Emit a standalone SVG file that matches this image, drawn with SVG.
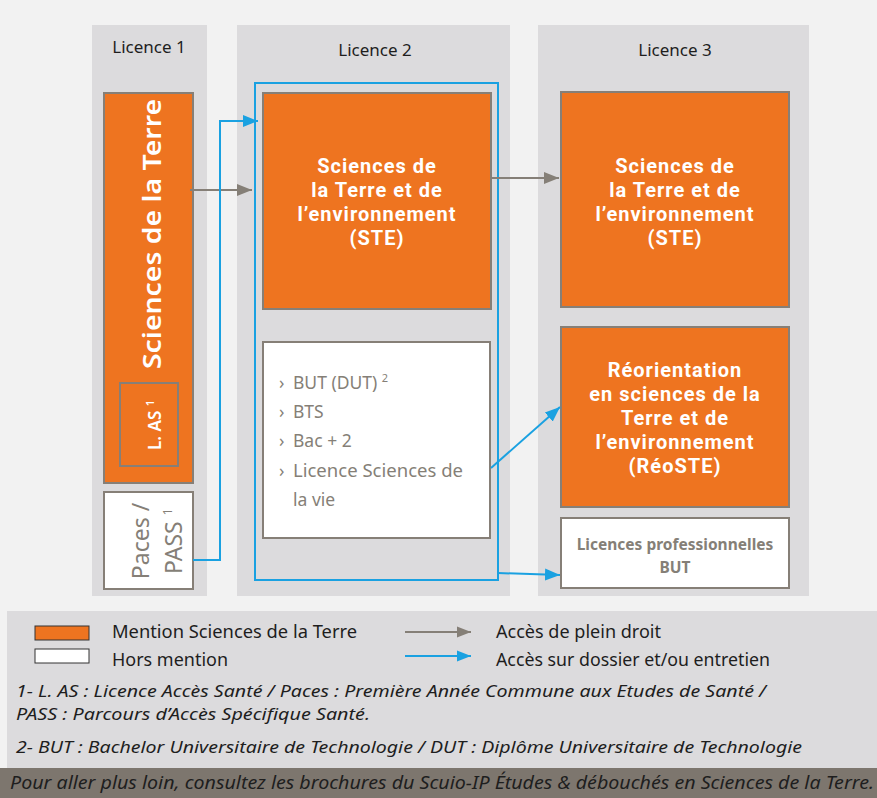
<svg xmlns="http://www.w3.org/2000/svg" width="877" height="798" viewBox="0 0 877 798">
<defs>
<style>
.col{fill:#dcdbdd}
.or{fill:#ee7420;stroke:#867f77;stroke-width:2}
.wh{fill:#fff;stroke:#867f77;stroke-width:2}
.t{font-family:"Noto Sans","Open Sans",sans-serif}
.hd{font-size:17px;fill:#1e1e1e;text-anchor:middle}
.bw{font-family:Roboto,"Noto Sans",sans-serif;font-size:20px;font-weight:bold;fill:#fff;text-anchor:middle;letter-spacing:1px}
.li{font-size:17.5px;fill:#857f77}
.lg{font-size:18px;fill:#1e1e1e}
.fn{font-size:17px;fill:#1e1e1e;font-style:italic}
.gl{stroke:#857f77;stroke-width:2;fill:none}
.bl{stroke:#1aa1e1;stroke-width:2;fill:none}
</style>
<marker id="ag" viewBox="0 0 10 10" refX="10" refY="5" markerWidth="14" markerHeight="14" markerUnits="userSpaceOnUse" orient="auto"><path d="M0,1L10,5L0,9z" fill="#857f77"/></marker>
<marker id="ab" viewBox="0 0 10 10" refX="10" refY="5" markerWidth="14" markerHeight="14" markerUnits="userSpaceOnUse" orient="auto"><path d="M0,1L10,5L0,9z" fill="#1aa1e1"/></marker>
<marker id="ag2" viewBox="0 0 10 10" refX="10" refY="5" markerWidth="15" markerHeight="15" markerUnits="userSpaceOnUse" orient="auto"><path d="M0,1L10,5L0,9z" fill="#857f77"/></marker>
<marker id="ab2" viewBox="0 0 10 10" refX="10" refY="5" markerWidth="15" markerHeight="15" markerUnits="userSpaceOnUse" orient="auto"><path d="M0,1L10,5L0,9z" fill="#1aa1e1"/></marker>
</defs>
<rect x="0" y="0" width="877" height="798" fill="#f2f2f2"/>
<g id="columns">
<rect class="col" x="92" y="25" width="115" height="571"/>
<rect class="col" x="237" y="25" width="273" height="571"/>
<rect class="col" x="538" y="25" width="271" height="571"/>
<text class="t hd" x="149" y="53">Licence 1</text>
<text class="t hd" x="375" y="56">Licence 2</text>
<text class="t hd" x="675" y="56">Licence 3</text>
</g>
<g id="l1-st">
<rect class="or" x="104" y="93" width="89" height="390"/>
<text class="t" transform="translate(161,234) rotate(-90)" text-anchor="middle" font-size="26" font-weight="600" fill="#fff" textLength="270" lengthAdjust="spacingAndGlyphs">Sciences de la Terre</text>
</g>
<g id="l1-las">
<rect class="or" x="120" y="383" width="58" height="83"/>
<text class="t" transform="translate(161,425) rotate(-90)" text-anchor="middle" font-size="17" fill="#fff" font-weight="600">L. AS <tspan font-size="11" dy="-7">1</tspan></text>
</g>
<g id="l1-paces">
<rect class="wh" x="104" y="492" width="89" height="97"/>
<text class="t" transform="translate(149,541) rotate(-90)" text-anchor="middle" font-size="23" fill="#857f77">Paces /</text>
<text class="t" transform="translate(182,541) rotate(-90)" text-anchor="middle" font-size="23" fill="#857f77">PASS <tspan font-size="13" dy="-10">1</tspan></text>
</g>
<g id="l2-group">
<rect x="255" y="83" width="243" height="497" fill="none" stroke="#1aa1e1" stroke-width="2"/>
</g>
<g id="l2-ste">
<rect class="or" x="263" y="93" width="228" height="216"/>
<text class="bw" x="377" y="173">Sciences de</text>
<text class="bw" x="377" y="197">la Terre et de</text>
<text class="bw" x="377" y="221">l’environnement</text>
<text class="bw" x="377" y="245">(STE)</text>
</g>
<g id="l2-other">
<rect class="wh" x="263" y="342" width="227" height="196"/>
<text class="t li" x="279" y="389">›</text><text class="t li" x="293" y="389">BUT (DUT) <tspan font-size="11" dy="-7">2</tspan></text>
<text class="t li" x="279" y="418">›</text><text class="t li" x="293" y="418">BTS</text>
<text class="t li" x="279" y="447">›</text><text class="t li" x="293" y="447">Bac + 2</text>
<text class="t li" x="279" y="477">›</text><text class="t li" x="293" y="477" textLength="170" lengthAdjust="spacingAndGlyphs">Licence Sciences de</text>
<text class="t li" x="293" y="506">la vie</text>
</g>
<g id="l3-ste">
<rect class="or" x="561" y="92" width="228" height="215"/>
<text class="bw" x="675" y="173">Sciences de</text>
<text class="bw" x="675" y="197">la Terre et de</text>
<text class="bw" x="675" y="221">l’environnement</text>
<text class="bw" x="675" y="245">(STE)</text>
</g>
<g id="l3-reo">
<rect class="or" x="561" y="327" width="228" height="180"/>
<text class="bw" x="675" y="377">Réorientation</text>
<text class="bw" x="675" y="401">en sciences de la</text>
<text class="bw" x="675" y="425">Terre et  de</text>
<text class="bw" x="675" y="449">l’environnement</text>
<text class="bw" x="675" y="473">(RéoSTE)</text>
</g>
<g id="l3-pro">
<rect class="wh" x="561" y="518" width="228" height="70"/>
<text class="t" x="675" y="550" text-anchor="middle" font-size="15.5" font-weight="bold" fill="#857f77">Licences professionnelles</text>
<text class="t" x="675" y="573" text-anchor="middle" font-size="15.5" font-weight="bold" fill="#857f77">BUT</text>
</g>
<g id="connectors">
<path class="gl" d="M190,190H252" marker-end="url(#ag2)"/>
<path class="bl" d="M193,560H220V121H258" marker-end="url(#ab2)"/>
<path class="gl" d="M491,178H559" marker-end="url(#ag2)"/>
<path class="bl" d="M491,468L560,407" marker-end="url(#ab2)"/>
<path class="bl" d="M498,573L560,575" marker-end="url(#ab2)"/>
</g>
<g id="legend">
<rect x="7" y="611" width="870" height="157" fill="#dcdbdd"/>
<rect x="35" y="626" width="54" height="14" fill="#ee7420" stroke="#333" stroke-width="1"/>
<rect x="35" y="649" width="54" height="14" fill="#fff" stroke="#333" stroke-width="1"/>
<text class="t lg" x="112" y="638" textLength="245" lengthAdjust="spacingAndGlyphs">Mention  Sciences de la Terre</text>
<text class="t lg" x="112" y="666" textLength="116" lengthAdjust="spacingAndGlyphs">Hors mention</text>
<path d="M405,632H471" stroke="#857f77" stroke-width="2" marker-end="url(#ag)"/>
<path d="M405,656H471" stroke="#1aa1e1" stroke-width="2" marker-end="url(#ab)"/>
<text class="t lg" x="496" y="638" textLength="165" lengthAdjust="spacingAndGlyphs">Accès de plein droit</text>
<text class="t lg" x="496" y="666" textLength="274" lengthAdjust="spacingAndGlyphs">Accès sur dossier et/ou entretien</text>
<text class="t fn" x="16" y="697" textLength="750" lengthAdjust="spacingAndGlyphs">1- L. AS : Licence Accès Santé / Paces : Première Année Commune aux Etudes de Santé /</text>
<text class="t fn" x="16" y="720" textLength="354" lengthAdjust="spacingAndGlyphs">PASS : Parcours d’Accès Spécifique Santé.</text>
<text class="t fn" x="16" y="753" textLength="786" lengthAdjust="spacingAndGlyphs">2- BUT : Bachelor Universitaire de Technologie / DUT : Diplôme Universitaire de Technologie</text>
</g>
<g id="footer">
<rect x="0" y="768" width="877" height="30" fill="#7d766e"/>
<text class="t" x="10" y="789" font-size="18" font-style="italic" fill="#1e1e1e" textLength="864" lengthAdjust="spacingAndGlyphs">Pour aller plus loin, consultez les  brochures du Scuio-IP Études &amp; débouchés en Sciences de la Terre.</text>
</g>
</svg>
